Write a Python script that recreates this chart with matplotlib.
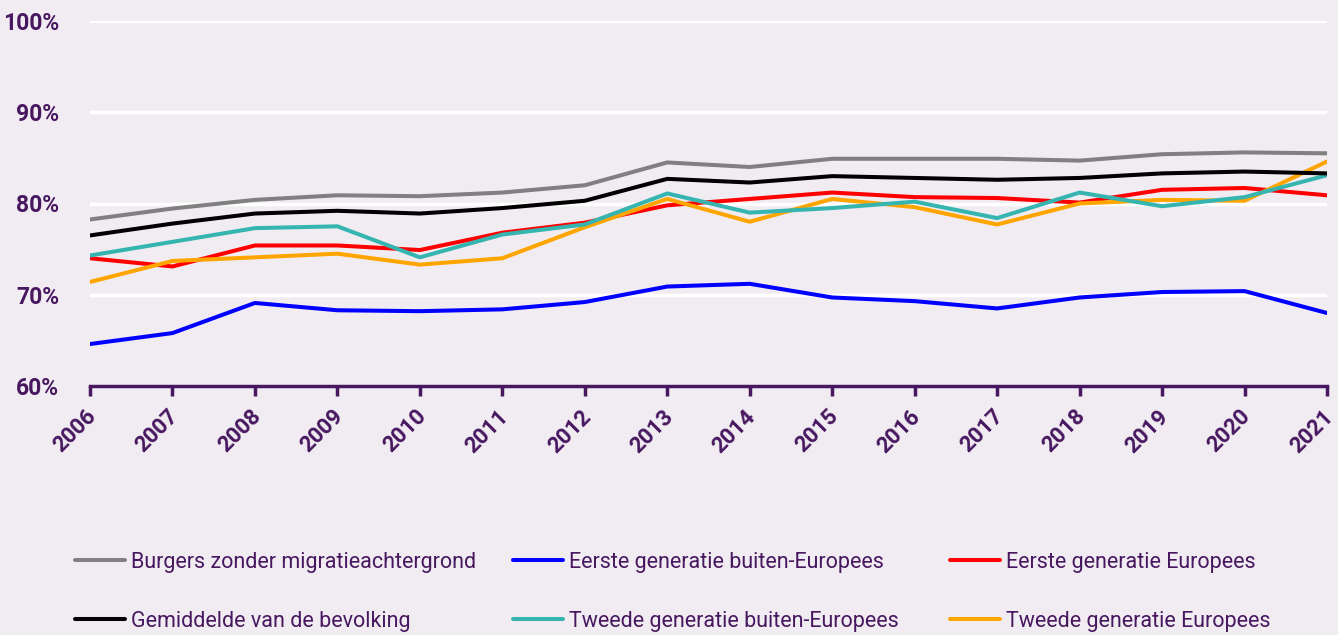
import matplotlib.pyplot as plt
from matplotlib.ticker import FuncFormatter
from matplotlib.transforms import ScaledTranslation

years = list(range(2006, 2022))

burgers = [78.25, 79.45, 80.4, 80.9, 80.8, 81.2, 82.0, 84.5, 84.0, 84.9, 84.9, 84.9, 84.7, 85.4, 85.6, 85.5]
gemiddelde = [76.5, 77.8, 78.9, 79.2, 78.9, 79.5, 80.3, 82.7, 82.3, 83.0, 82.8, 82.6, 82.8, 83.3, 83.5, 83.3]
eerste_buiten = [64.6, 65.8, 69.1, 68.3, 68.2, 68.4, 69.2, 70.9, 71.2, 69.7, 69.3, 68.5, 69.7, 70.3, 70.4, 68.0]
tweede_buiten = [74.3, 75.8, 77.3, 77.5, 74.1, 76.6, 77.7, 81.1, 79.0, 79.5, 80.2, 78.4, 81.2, 79.7, 80.7, 83.1]
eerste_europees = [74.0, 73.1, 75.4, 75.4, 74.9, 76.8, 77.9, 79.8, 80.5, 81.2, 80.7, 80.6, 80.1, 81.5, 81.7, 80.9]
tweede_europees = [71.4, 73.7, 74.1, 74.5, 73.3, 74.0, 77.4, 80.5, 78.0, 80.5, 79.6, 77.7, 80.0, 80.4, 80.3, 84.6]

bg = '#f1ecf2'
purple = '#47175f'

fig = plt.figure(figsize=(13.38, 6.35), dpi=100, facecolor=bg)
ax = fig.add_axes([90 / 1338, 1 - 386 / 635, (1327 - 90) / 1338, (386 - 21) / 635])
ax.set_facecolor(bg)

series = [
    ('Burgers zonder migratieachtergrond', burgers, '#808080'),
    ('Gemiddelde van de bevolking', gemiddelde, '#000000'),
    ('Eerste generatie buiten-Europees', eerste_buiten, '#0000ff'),
    ('Tweede generatie buiten-Europees', tweede_buiten, '#36b5b0'),
    ('Eerste generatie Europees', eerste_europees, '#ff0000'),
    ('Tweede generatie Europees', tweede_europees, '#ffa500'),
]
draw_order = [2, 4, 5, 3, 1, 0]
lines = {}
for i in draw_order:
    name, vals, col = series[i]
    lines[i], = ax.plot(years, vals, color=col, lw=2.9, label=name, solid_capstyle='round')

ax.set_xlim(2006, 2021)
ax.set_ylim(60, 100)
ax.set_yticks([60, 70, 80, 90, 100])
ax.yaxis.set_major_formatter(FuncFormatter(lambda v, p: f'{int(v)}%'))
ax.set_xticks(years)
ax.grid(axis='y', color='white', lw=2.5)
ax.set_axisbelow(True)
for s in ['top', 'right', 'left']:
    ax.spines[s].set_visible(False)
ax.spines['bottom'].set_color(purple)
ax.spines['bottom'].set_linewidth(2.5)
ax.tick_params(axis='y', length=0, pad=22, labelcolor=purple, labelsize=16.5)
ax.tick_params(axis='x', length=7, width=2.5, color=purple, labelcolor=purple, labelsize=16, pad=7)
for lab in ax.get_yticklabels():
    lab.set_fontweight('bold')
    lab.set_fontfamily('Roboto')
shift = ScaledTranslation(-5 / 100, 0, fig.dpi_scale_trans)
for lab in ax.get_xticklabels():
    lab.set_fontweight('bold')
    lab.set_fontfamily('Roboto')
    lab.set_rotation(45)
    lab.set_ha('right')
    lab.set_va('top')
    lab.set_rotation_mode('anchor')
    lab.set_transform(lab.get_transform() + shift)

# one legend per column, placed where the original has them
col_x = [75, 513, 950]
for c in range(3):
    idx = [2 * c, 2 * c + 1]
    leg = fig.legend([lines[i] for i in idx], [series[i][0] for i in idx],
                     loc='upper left', bbox_to_anchor=(col_x[c] / 1338, 1 - 552 / 635),
                     frameon=False, prop={'family': 'Roboto', 'size': 15.5},
                     borderpad=0, borderaxespad=0,
                     handlelength=2.3, handletextpad=0.28, labelspacing=1.75)
    for t in leg.get_texts():
        t.set_color(purple)

fig.savefig('out.png', dpi=100, facecolor=bg)
